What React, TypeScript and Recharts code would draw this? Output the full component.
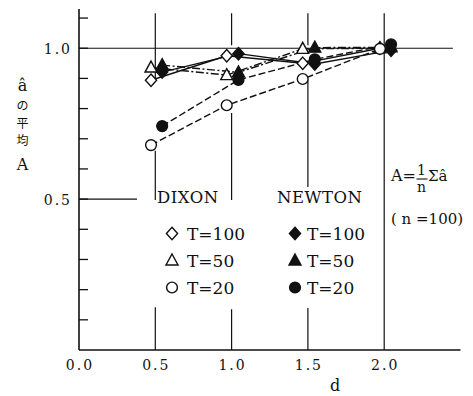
import React from "react";
import { LineChart, Line, XAxis, YAxis, ReferenceLine } from "recharts";

// ---- data ----
const dixonX = [0.472, 0.968, 1.466, 1.972];
const newtonX = [0.545, 1.045, 1.545, 2.045];
const dixonT100 = [0.894, 0.975, 0.95, 1.0];
const dixonT50 = [0.936, 0.911, 0.998, 1.0];
const dixonT20 = [0.679, 0.811, 0.898, 0.998];
const newtonT100 = [0.921, 0.982, 0.948, 0.993];
const newtonT50 = [0.944, 0.92, 1.002, 1.003];
const newtonT20 = [0.742, 0.895, 0.963, 1.013];
const seriesLabels = ["T=100", "T=50", "T=20"];
const methodLabels = ["DIXON", "NEWTON"];
const xTicks = [0, 0.5, 1.0, 1.5, 2.0];
const xTickLabels = ["0.0", "0.5", "1.0", "1.5", "2.0"];
const yTicks = [0, 0.1, 0.2, 0.3, 0.4, 0.5, 0.6, 0.7, 0.8, 0.9, 1.0, 1.1];
const yLabeledTicks = [0.5, 1.0];
const yLabeledText = ["0.5", "1.0"];
const yAxisTitle = ["â", "の", "平", "均", "A"];

type Shape = "diamond" | "triangle" | "circle";
const shapes: Shape[] = ["diamond", "triangle", "circle"];
const dashes = [undefined, "8 2.5 2 2.5", "7 3"];

const build = (xs: number[], ys: number[]) => xs.map((x, i) => ({ x, y: ys[i] }));

const series = [
  { key: "dT100", data: build(dixonX, dixonT100), shape: shapes[0], filled: false, dash: dashes[0] },
  { key: "dT50", data: build(dixonX, dixonT50), shape: shapes[1], filled: false, dash: dashes[1] },
  { key: "dT20", data: build(dixonX, dixonT20), shape: shapes[2], filled: false, dash: dashes[2] },
  { key: "nT100", data: build(newtonX, newtonT100), shape: shapes[0], filled: true, dash: dashes[0] },
  { key: "nT50", data: build(newtonX, newtonT50), shape: shapes[1], filled: true, dash: dashes[1] },
  { key: "nT20", data: build(newtonX, newtonT20), shape: shapes[2], filled: true, dash: dashes[2] },
];

const SERIF = "'DejaVu Serif', 'Liberation Serif', serif";
const CJK = "'Noto Sans CJK JP', sans-serif";
const INK = "#111";

const Marker = ({ cx, cy, shape, filled }: { cx: number; cy: number; shape: Shape; filled: boolean }) => {
  const fill = filled ? INK : "#fff";
  if (shape === "diamond") {
    return (
      <polygon
        points={`${cx},${cy - 6.2} ${cx + 5.6},${cy} ${cx},${cy + 6.2} ${cx - 5.6},${cy}`}
        fill={fill}
        stroke={INK}
        strokeWidth={1.4}
      />
    );
  }
  if (shape === "triangle") {
    return (
      <polygon
        points={`${cx},${cy - 6.5} ${cx + 6},${cy + 4.5} ${cx - 6},${cy + 4.5}`}
        fill={fill}
        stroke={INK}
        strokeWidth={1.4}
      />
    );
  }
  return <circle cx={cx} cy={cy} r={5.4} fill={fill} stroke={INK} strokeWidth={1.4} />;
};

const YTick = (props: any) => {
  const { x, y, payload } = props;
  const v = payload.value as number;
  const li = yLabeledTicks.findIndex((t) => Math.abs(t - v) < 1e-6);
  return (
    <g>
      {v > 0.001 && <line x1={x} x2={x + 9} y1={y} y2={y} stroke={INK} strokeWidth={1.3} />}
      {li >= 0 && (
        <text x={x - 7} y={y + 5.5} textAnchor="end" fontFamily={SERIF} fontSize={14} letterSpacing={2} fill={INK}>
          {yLabeledText[li]}
        </text>
      )}
    </g>
  );
};

const XTick = (props: any) => {
  const { x, y, payload, index } = props;
  return (
    <text x={x + 1} y={y + 19.5} textAnchor="middle" fontFamily={SERIF} fontSize={14} letterSpacing={2} fill={INK}>
      {xTickLabels[index] ?? String(payload.value)}
    </text>
  );
};

const seg = (x: number, y1: number, y2: number, k: string) => (
  <ReferenceLine
    key={k}
    segment={[
      { x, y: y1 },
      { x, y: y2 },
    ]}
    stroke={INK}
    strokeWidth={1.2}
  />
);

export default function App() {
  const legendRowsY = [233.5, 260.5, 287.5];
  return (
    <div style={{ position: "fixed", left: 0, top: 0, width: 473, height: 396, background: "#fff" }}>
      <LineChart width={473} height={396} margin={{ top: 9, right: 12.5, bottom: 16, left: 0 }}>
        <XAxis
          dataKey="x"
          type="number"
          domain={[0, 2.5]}
          ticks={xTicks}
          tick={<XTick />}
          tickLine={false}
          tickSize={0}
          tickMargin={0}
          height={30}
          axisLine={{ stroke: INK, strokeWidth: 1.6 }}
          allowDataOverflow
        />
        <YAxis
          type="number"
          domain={[0, 1.13]}
          ticks={yTicks}
          tick={<YTick />}
          tickLine={false}
          tickSize={0}
          tickMargin={0}
          width={79}
          axisLine={{ stroke: INK, strokeWidth: 1.6 }}
          allowDataOverflow
          interval={0}
        />
        <ReferenceLine
          segment={[
            { x: 0, y: 1.0 },
            { x: 2.45, y: 1.0 },
          ]}
          stroke={INK}
          strokeWidth={1.2}
        />
        <ReferenceLine
          segment={[
            { x: 0, y: 0.5 },
            { x: 0.38, y: 0.5 },
          ]}
          stroke={INK}
          strokeWidth={1.2}
        />
        {seg(0.5, 1.116, 0.9, "a1")}
        {seg(0.5, 0.66, 0.497, "a2")}
        {seg(0.5, 0.142, 0, "a3")}
        {seg(1.0, 1.116, 1.01, "b1")}
        {seg(1.0, 0.785, 0.497, "b2")}
        {seg(1.0, 0.135, 0, "b3")}
        {seg(1.5, 1.116, 1.01, "c1")}
        {seg(1.5, 0.894, 0.54, "c2")}
        {seg(1.5, 0.139, 0, "c3")}
        {seg(2.0, 1.116, 0, "d1")}
        {series.map((s) => (
          <Line
            key={s.key}
            data={s.data}
            dataKey="y"
            type="linear"
            stroke={INK}
            strokeWidth={1.4}
            strokeDasharray={s.dash}
            isAnimationActive={false}
            dot={(p: any) => (
              <Marker key={`${s.key}-${p.index}`} cx={p.cx} cy={p.cy} shape={s.shape} filled={s.filled} />
            )}
            activeDot={false}
          />
        ))}
      </LineChart>
      <svg
        width={473}
        height={396}
        style={{ position: "absolute", left: 0, top: 0, pointerEvents: "none" }}
      >
        {/* y axis title, stacked vertically */}
        <text x={22.5} y={91} textAnchor="middle" fontFamily={SERIF} fontSize={16} fill={INK}>
          {yAxisTitle[0]}
        </text>
        <text x={22.5} y={110} textAnchor="middle" fontFamily={CJK} fontSize={12} fill={INK}>
          {yAxisTitle[1]}
        </text>
        <text x={22.5} y={127.6} textAnchor="middle" fontFamily={CJK} fontSize={12} fill={INK}>
          {yAxisTitle[2]}
        </text>
        <text x={22.5} y={145.2} textAnchor="middle" fontFamily={CJK} fontSize={12} fill={INK}>
          {yAxisTitle[3]}
        </text>
        <text x={22.5} y={170} textAnchor="middle" fontFamily={SERIF} fontSize={16} fill={INK}>
          {yAxisTitle[4]}
        </text>

        {/* x axis title */}
        <text x={335} y={391} textAnchor="middle" fontFamily={SERIF} fontSize={16} fill={INK}>
          d
        </text>

        {/* legend */}
        <text x={157} y={203} fontFamily={SERIF} fontSize={16.5} letterSpacing={0.5} fill={INK}>
          {methodLabels[0]}
        </text>
        <text x={277} y={203} fontFamily={SERIF} fontSize={16.5} letterSpacing={0.5} fill={INK}>
          {methodLabels[1]}
        </text>
        {seriesLabels.map((lab, i) => (
          <g key={lab}>
            <Marker cx={172} cy={legendRowsY[i]} shape={shapes[i]} filled={false} />
            <text x={187} y={legendRowsY[i] + 6.5} fontFamily={SERIF} fontSize={17} fill={INK}>
              {lab}
            </text>
            <Marker cx={295} cy={legendRowsY[i]} shape={shapes[i]} filled />
            <text x={307} y={legendRowsY[i] + 6.5} fontFamily={SERIF} fontSize={17} fill={INK}>
              {lab}
            </text>
          </g>
        ))}

        {/* formula annotation */}
        <text x={391} y={180.5} fontFamily={SERIF} fontSize={16} fill={INK}>
          A=
        </text>
        <text x={421.5} y={175} textAnchor="middle" fontFamily={SERIF} fontSize={14} fill={INK}>
          1
        </text>
        <line x1={416.5} x2={427.5} y1={179} y2={179} stroke={INK} strokeWidth={1.1} />
        <text x={421.5} y={191.5} textAnchor="middle" fontFamily={SERIF} fontSize={14} fill={INK}>
          n
        </text>
        <text x={428} y={180.5} fontFamily={SERIF} fontSize={15} fill={INK}>
          Σâ
        </text>
        <text x={391} y={224} fontFamily={SERIF} fontSize={15} fill={INK}>
          ( n =100)
        </text>
      </svg>
    </div>
  );
}
